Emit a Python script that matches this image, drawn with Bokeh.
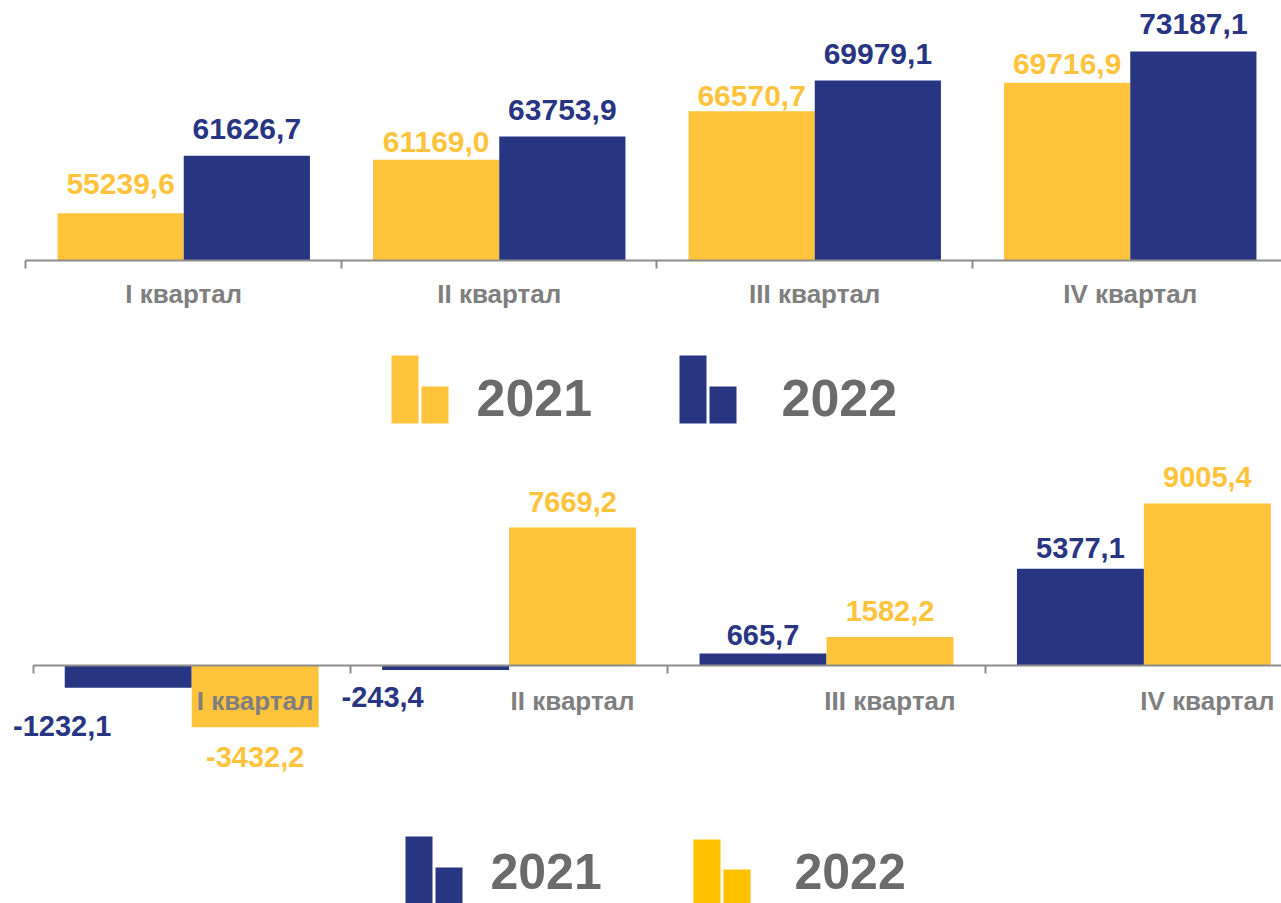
import numpy as np
from bokeh.plotting import figure
from bokeh.models import Range1d, LinearAxis, FixedTicker, ColumnDataSource
from bokeh.layouts import column
from bokeh.embed import file_html
from bokeh.resources import INLINE
from bokeh.core.properties import value

# ---------------- data ----------------
quarters = ["I квартал", "II квартал", "III квартал", "IV квартал"]
years = ["2021", "2022"]
top_2021 = [55239.6, 61169.0, 66570.7, 69716.9]
top_2022 = [61626.7, 63753.9, 69979.1, 73187.1]
bot_2021 = [-1232.1, -243.4, 665.7, 5377.1]
bot_2022 = [-3432.2, 7669.2, 1582.2, 9005.4]

# ---------------- style ----------------
YELLOW = "#FFC33C"
BLUE = "#283582"
LEG_YELLOW = "#FFC000"
AXIS = "#8C8C8C"
CAT_GRAY = "#7F7F7F"
LEG_GRAY = "#6B6B6B"
FONT = "Liberation Sans"
W = 1281


def fmt(v):
    return f"{v:.1f}".replace(".", ",")


idx = np.arange(len(quarters))


def base_fig(height, xr, yr, **kw):
    p = figure(width=W, height=height, x_range=xr, y_range=yr,
               x_axis_type=None, y_axis_type=None,
               min_border_left=0, min_border_right=0,
               toolbar_location=None, output_backend="svg", **kw)
    p.outline_line_color = None
    p.background_fill_color = "white"
    p.border_fill_color = "white"
    return p


def cat_axis(ticks, **kw):
    return LinearAxis(
        bounds=(0, len(quarters)),
        ticker=FixedTicker(ticks=list(ticks), minor_ticks=list(range(len(quarters) + 1))),
        major_label_overrides={float(t): q for t, q in zip(ticks, quarters)},
        major_tick_line_color=None, major_tick_in=0, major_tick_out=0,
        minor_tick_in=0, minor_tick_out=8, minor_tick_line_color=AXIS, minor_tick_line_width=2,
        axis_line_color=AXIS, axis_line_width=2,
        major_label_text_font=FONT, major_label_text_font_style="bold",
        major_label_text_font_size="26px", major_label_text_color=CAT_GRAY,
        **kw)


def legend_fig(height, years_, colors, icon_left, tall_top, short_top, icon_bottom,
               text_x, text_y, font_size):
    p = base_fig(height, Range1d(0, W), Range1d(height, 0), min_border_top=0, min_border_bottom=0)
    src = ColumnDataSource(dict(
        year=years_, color=colors,
        tl=icon_left, tr=[x + 27 for x in icon_left],
        sl=[x + 30 for x in icon_left], sr=[x + 57 for x in icon_left],
        tt=tall_top, st=short_top, bt=icon_bottom,
        tx=text_x, ty=text_y,
    ))
    p.quad(left="tl", right="tr", top="tt", bottom="bt", fill_color="color", line_color=None, source=src)
    p.quad(left="sl", right="sr", top="st", bottom="bt", fill_color="color", line_color=None, source=src)
    p.text(x="tx", y="ty", text="year", source=src, text_align="left", text_baseline="alphabetic",
           text_font=value(FONT), text_font_style="bold", text_font_size=font_size, text_color=LEG_GRAY)
    return p


# ---------------- top chart ----------------
p1 = base_fig(330, Range1d(-0.0808, 3.9794), Range1d(50000, 78844),
              min_border_top=0, min_border_bottom=70)
s1 = ColumnDataSource(dict(
    xa=idx + 0.3, xb=idx + 0.7,
    va=top_2021, vb=top_2022,
    la=[fmt(v) for v in top_2021], lb=[fmt(v) for v in top_2022],
    oa=[-29, -18, -15, -19], ob=[-27, -27, -26, -27],
))
p1.vbar(x="xa", top="va", bottom=50000, width=0.4, fill_color=YELLOW, line_color=None, source=s1)
p1.vbar(x="xb", top="vb", bottom=50000, width=0.4, fill_color=BLUE, line_color=None, source=s1)
for xf, vf, lf, of, col in [("xa", "va", "la", "oa", YELLOW), ("xb", "vb", "lb", "ob", BLUE)]:
    p1.text(x=xf, y=vf, text=lf, y_offset=of, source=s1,
            text_align="center", text_baseline="alphabetic",
            text_font=value(FONT), text_font_style="bold", text_font_size="30px",
            text_color=col)
p1.add_layout(cat_axis(idx + 0.5, major_label_standoff=10), "below")

# ---------------- legend (top) ----------------
leg1 = legend_fig(115, years, [YELLOW, BLUE], [391, 679], [25, 25], [56, 56], [93, 93],
                  [476, 781], [67, 67], "52px")

# ---------------- bottom chart ----------------
p2 = base_fig(360, Range1d(-0.1024, 3.9335), Range1d(-7782, 11673),
              min_border_top=10, min_border_bottom=0)
s2 = ColumnDataSource(dict(
    xa=idx + 0.3, xb=idx + 0.7,
    va=bot_2021, vb=bot_2022,
    la=[fmt(v) for v in bot_2021], lb=[fmt(v) for v in bot_2022],
    xoa=[-66, -63, 0, 0], xob=[0, 0, 0, 0],
    oa=[38, 27, -19, -21], ob=[30, -26, -26, -26],
))
p2.vbar(x="xa", top="va", bottom=0, width=0.4, fill_color=BLUE, line_color=None, source=s2)
p2.vbar(x="xb", top="vb", bottom=0, width=0.4, fill_color=YELLOW, line_color=None, source=s2)
for xf, vf, lf, xo, of, col in [("xa", "va", "la", "xoa", "oa", BLUE), ("xb", "vb", "lb", "xob", "ob", YELLOW)]:
    p2.text(x=xf, y=vf, text=lf, x_offset=xo, y_offset=of, source=s2,
            text_align="center", text_baseline="alphabetic",
            text_font=value(FONT), text_font_style="bold", text_font_size="29px",
            text_color=col)
p2.add_layout(cat_axis(idx + 0.7, fixed_location=0, major_label_standoff=12), "below")

# ---------------- legend (bottom) ----------------
leg2 = legend_fig(98, years, [BLUE, LEG_YELLOW], [405, 693], [31, 34], [62, 64], [98, 98],
                  [490, 794], [66, 66], "50px")

layout = column(p1, leg1, p2, leg2, spacing=0)
open("out.html", "w").write(file_html(layout, INLINE))
